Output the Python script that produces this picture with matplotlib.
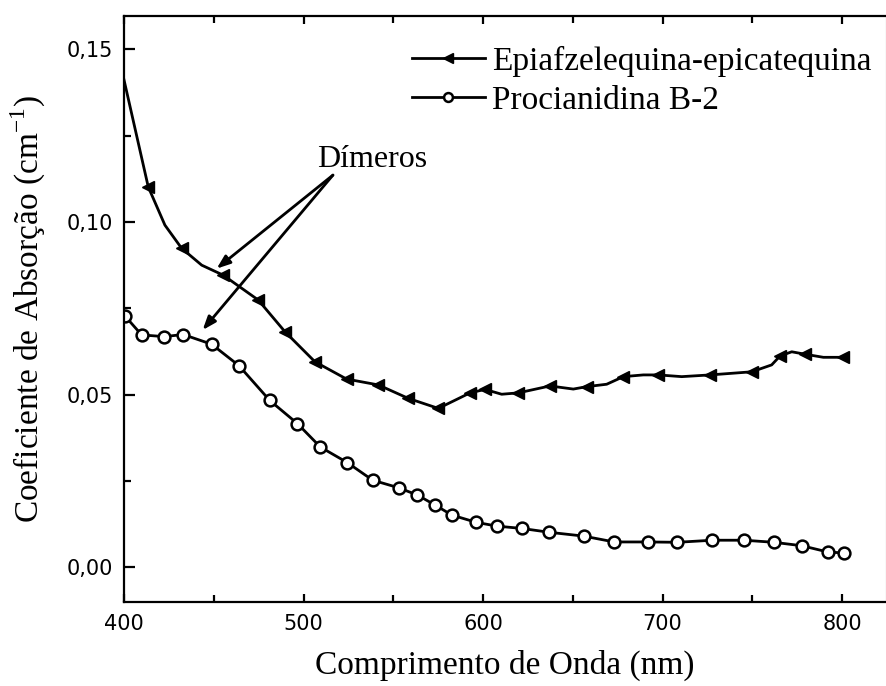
import matplotlib
matplotlib.use("Agg")
import matplotlib.pyplot as plt
from matplotlib.ticker import MultipleLocator, FuncFormatter

# Data
epi_x = [400, 413.5, 422.8, 432.1, 443.3, 455.3, 474.8, 489.7, 506.4, 524.0, 541.7,
         558.4, 575.1, 592.8, 601.1, 610.4, 619.7, 637.3, 650.3, 657.8, 668.9, 678.2,
         689.3, 697.7, 710.7, 726.5, 749.7, 760.8, 765.5, 772.0, 779.4, 789.6, 800.7]
epi_y = [0.1412, 0.1102, 0.0991, 0.0924, 0.0875, 0.0846, 0.0774, 0.0682, 0.0595, 0.0545, 0.0528,
         0.0489, 0.0460, 0.0505, 0.0515, 0.0501, 0.0505, 0.0525, 0.0516, 0.0523, 0.0530, 0.0552,
         0.0557, 0.0557, 0.0552, 0.0557, 0.0566, 0.0586, 0.0612, 0.0624, 0.0617, 0.0608, 0.0608]
epi_markers = [1, 3, 5, 6, 7, 8, 9, 10, 11, 12, 13, 14, 16, 17, 19, 21, 23, 25, 26, 28, 30, 32]

pro_x = [400.5, 409.8, 422.3, 433.0, 448.8, 464.0, 481.2, 496.6, 509.4, 524.4, 538.5,
         553.0, 563.4, 573.3, 582.6, 596.1, 607.6, 621.9, 636.9, 656.0, 673.1, 691.9,
         708.2, 727.7, 745.5, 762.0, 777.7, 792.0, 801.1]
pro_y = [0.0728, 0.0673, 0.0668, 0.0674, 0.0646, 0.0584, 0.0483, 0.0416, 0.0348, 0.0303, 0.0252,
         0.0230, 0.0209, 0.0180, 0.0151, 0.0130, 0.0119, 0.0112, 0.0101, 0.0090, 0.0073, 0.0073,
         0.0072, 0.0078, 0.0078, 0.0072, 0.0062, 0.0044, 0.0041]

labels = ["Epiafzelequina-epicatequina", "Procianidina B-2"]
annot_text = "Dímeros"
xlabel = "Comprimento de Onda (nm)"
ylabel = "Coeficiente de Absorção (cm$^{\\mathregular{-1}}$)"

serif = "Liberation Serif"
sans = "DejaVu Sans"
plt.rcParams["mathtext.fontset"] = "custom"
plt.rcParams["mathtext.rm"] = serif

fig = plt.figure(figsize=(8.87, 6.86), dpi=100)
ax = fig.add_axes([124/887, 84/686, 762/887, 586/686])

ax.plot(epi_x, epi_y, color="black", lw=2.0, marker="<", markersize=9,
        markevery=epi_markers, markerfacecolor="black", markeredgecolor="black",
        label=labels[0])
ax.plot(pro_x, pro_y, color="black", lw=2.0, marker="o", markersize=8.5,
        markerfacecolor="white", markeredgecolor="black", markeredgewidth=1.8,
        label=labels[1])

ax.set_xlim(400, 824.5)
ax.set_ylim(-0.0101, 0.1597)
ax.xaxis.set_major_locator(MultipleLocator(100))
ax.xaxis.set_minor_locator(MultipleLocator(50))
ax.yaxis.set_major_locator(MultipleLocator(0.05))
ax.yaxis.set_minor_locator(MultipleLocator(0.025))
ax.yaxis.set_major_formatter(FuncFormatter(lambda v, p: f"{v:.2f}".replace(".", ",")))

ax.tick_params(axis="both", which="both", direction="in", width=1.6, labelsize=15)
ax.tick_params(axis="x", which="major", length=6, top=True, pad=9)
ax.tick_params(axis="x", which="minor", length=5, top=True)
ax.tick_params(axis="y", which="major", length=8, pad=8)
ax.tick_params(axis="y", which="minor", length=5)
for lab in ax.get_xticklabels() + ax.get_yticklabels():
    lab.set_fontfamily(sans)

for s in ["left", "bottom", "top"]:
    ax.spines[s].set_linewidth(1.6)
ax.spines["right"].set_linewidth(0.8)
ax.spines["right"].set_color("#888888")

ax.set_xlabel(xlabel, fontsize=24, family=serif, labelpad=11)
ax.set_ylabel(ylabel, fontsize=24, family=serif)
ax.yaxis.set_label_coords(-0.10, 0.5)

leg = ax.legend(loc="upper right", bbox_to_anchor=(1.02, 1.0), frameon=False,
                prop={"family": serif, "size": 24}, handlelength=2.2,
                handletextpad=0.2, labelspacing=0.25, markerscale=0.75)

ax.text(538, 0.1159, annot_text, fontsize=23, family=serif, ha="center", va="baseline")
arrow_kw = dict(arrowstyle="-|>,head_length=0.8,head_width=0.3", color="black", lw=2,
                shrinkA=0, shrinkB=0)
ax.annotate("", xy=(451.6, 0.0865), xytext=(516.4, 0.1136), arrowprops=arrow_kw)
ax.annotate("", xy=(443.8, 0.0687), xytext=(516.4, 0.1136), arrowprops=arrow_kw)

fig.savefig("out.png", dpi=100)
